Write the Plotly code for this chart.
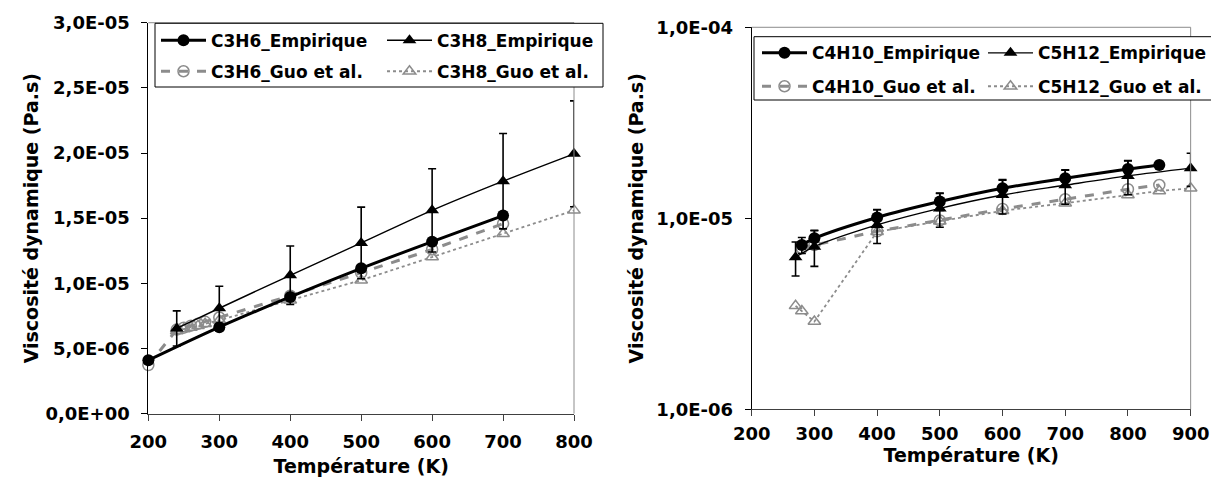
import plotly.graph_objects as go

# Données (température en K, viscosité en Pa.s)
# -- graphe de gauche : C3H6 / C3H8
t_c3h6_emp = [200, 300, 400, 500, 600, 700]
mu_c3h6_emp = [4.10e-6, 6.64e-6, 8.96e-6, 11.15e-6, 13.20e-6, 15.20e-6]

t_c3h8_emp = [240, 300, 400, 500, 600, 700, 800]
mu_c3h8_emp = [6.54e-6, 8.09e-6, 10.62e-6, 13.10e-6, 15.60e-6, 17.84e-6, 19.94e-6]
err_c3h8_emp = [1.35e-6, 1.69e-6, 2.24e-6, 2.75e-6, 3.19e-6, 3.66e-6, 4.06e-6]

t_c3h6_guo = [200, 240, 250, 260, 270, 280, 300, 400, 500, 600, 700]
mu_c3h6_guo = [3.73e-6, 6.45e-6, 6.60e-6, 6.75e-6, 6.90e-6, 7.05e-6, 7.38e-6,
               9.05e-6, 10.80e-6, 12.60e-6, 14.58e-6]

t_c3h8_guo = [240, 250, 260, 270, 280, 300, 400, 500, 600, 700, 800]
mu_c3h8_guo = [6.35e-6, 6.50e-6, 6.62e-6, 6.75e-6, 6.90e-6, 7.17e-6,
               8.70e-6, 10.24e-6, 12.02e-6, 13.81e-6, 15.60e-6]

# -- graphe de droite : C4H10 / C5H12 (échelle log)
t_c4h10_emp = [280, 300, 400, 500, 600, 700, 800, 850]
mu_c4h10_emp = [7.24e-6, 7.85e-6, 10.1e-6, 12.23e-6, 14.36e-6, 16.2e-6, 18.1e-6, 19.0e-6]
err_c4h10_emp = [0.7e-6, 0.8e-6, 1.0e-6, 1.25e-6, 1.45e-6, 1.65e-6, 1.85e-6, 0]

t_c5h12_emp = [270, 300, 400, 500, 600, 700, 800, 900]
mu_c5h12_emp = [6.25e-6, 7.10e-6, 9.23e-6, 11.27e-6, 13.24e-6, 14.9e-6, 16.67e-6, 18.3e-6]
err_c5h12_emp = [1.26e-6, 1.5e-6, 1.85e-6, 2.3e-6, 2.7e-6, 3.05e-6, 3.4e-6, 3.6e-6]

t_c4h10_guo = [280, 300, 400, 500, 600, 700, 800, 850]
mu_c4h10_guo = [6.97e-6, 7.24e-6, 8.55e-6, 9.75e-6, 11.2e-6, 12.58e-6, 14.2e-6, 14.94e-6]

t_c5h12_guo = [270, 280, 300, 400, 500, 600, 700, 800, 850, 900]
mu_c5h12_guo = [3.48e-6, 3.27e-6, 2.88e-6, 8.50e-6, 9.65e-6, 10.95e-6, 12.0e-6,
                13.24e-6, 13.9e-6, 14.36e-6]

# graduations
x_ticks_left = [200, 300, 400, 500, 600, 700, 800]
x_ticks_right = [200, 300, 400, 500, 600, 700, 800, 900]
y_ticks_left = [0, 5e-6, 1e-5, 1.5e-5, 2e-5, 2.5e-5, 3e-5]
y_labels_left = ["0,0E+00", "5,0E-06", "1,0E-05", "1,5E-05", "2,0E-05", "2,5E-05", "3,0E-05"]
y_ticks_right = [1e-6, 1e-5, 1e-4]
y_labels_right = ["1,0E-06", "1,0E-05", "1,0E-04"]

FONT = "DejaVu Sans"
GRIS = "#8c8c8c"


def emp_trace(x, y, name, symbol, width, err, xa, ya, leg):
    return go.Scatter(
        x=x, y=y, name=name, mode="lines+markers", line_shape="spline",
        line=dict(color="black", width=width),
        marker=dict(symbol=symbol, size=12, color="black"),
        error_y=None if err is None else dict(type="data", array=err, visible=True,
                                             color="black", thickness=1.6, width=4),
        xaxis=xa, yaxis=ya, legend=leg, cliponaxis=False,
    )


def guo_trace(x, y, name, symbol, dash, width, xa, ya, leg):
    return go.Scatter(
        x=x, y=y, name=name, mode="lines+markers",
        line=dict(color=GRIS, width=width, dash=dash),
        marker=dict(symbol=symbol, size=11, color=GRIS, line=dict(color=GRIS, width=1.5)),
        xaxis=xa, yaxis=ya, legend=leg, cliponaxis=False,
    )


fig = go.Figure()

# gauche
fig.add_trace(guo_trace(t_c3h8_guo, mu_c3h8_guo, "C3H8_Guo et al.", "triangle-up-open",
                        "dot", 1.8, "x", "y", "legend2"))
fig.add_trace(guo_trace(t_c3h6_guo, mu_c3h6_guo, "C3H6_Guo et al.", "circle-open",
                        "dash", 3, "x", "y", "legend2"))
fig.add_trace(emp_trace(t_c3h8_emp, mu_c3h8_emp, "C3H8_Empirique", "triangle-up", 1.4,
                        err_c3h8_emp, "x", "y", "legend"))
fig.add_trace(emp_trace(t_c3h6_emp, mu_c3h6_emp, "C3H6_Empirique", "circle", 3,
                        None, "x", "y", "legend"))

# droite
fig.add_trace(guo_trace(t_c5h12_guo, mu_c5h12_guo, "C5H12_Guo et al.", "triangle-up-open",
                        "dot", 1.8, "x2", "y2", "legend4"))
fig.add_trace(guo_trace(t_c4h10_guo, mu_c4h10_guo, "C4H10_Guo et al.", "circle-open",
                        "dash", 3, "x2", "y2", "legend4"))
fig.add_trace(emp_trace(t_c5h12_emp, mu_c5h12_emp, "C5H12_Empirique", "triangle-up", 1.4,
                        err_c5h12_emp, "x2", "y2", "legend3"))
fig.add_trace(emp_trace(t_c4h10_emp, mu_c4h10_emp, "C4H10_Empirique", "circle", 3,
                        err_c4h10_emp, "x2", "y2", "legend3"))

tickfont = dict(family=FONT, size=18, color="black", weight="bold")
titlefont = dict(family=FONT, size=19, color="black", weight="bold")

common_x = dict(ticks="outside", ticklen=6, tickcolor="#404040", showline=True,
                linecolor="#404040", linewidth=1, showgrid=False, zeroline=False,
                tickfont=tickfont, automargin=False)
common_y = dict(ticks="outside", ticklen=6, tickcolor="black", showline=True,
                linecolor="black", linewidth=1, showgrid=False, zeroline=False,
                tickfont=tickfont, ticklabelstandoff=8, automargin=False)

leg_common = dict(orientation="h", xanchor="left", yanchor="middle", bgcolor="rgba(0,0,0,0)",
                  borderwidth=0, font=dict(family=FONT, size=17, color="black", weight="bold"),
                  entrywidthmode="pixels", entrywidth=166, itemwidth=45,
                  traceorder="reversed")

fig.update_layout(
    template="none",
    width=1211, height=499,
    margin=dict(l=0, r=0, t=0, b=0, autoexpand=False),
    paper_bgcolor="white", plot_bgcolor="white",
    xaxis=dict(domain=[0.1225, 0.474], range=[200, 800], tickvals=x_ticks_left, anchor="y",
               ticklabelstandoff=6,
               title=dict(text="Température (K)", font=titlefont, standoff=8), **common_x),
    yaxis=dict(domain=[0.171, 0.9545], range=[0, 3e-5], tickvals=y_ticks_left,
               ticktext=y_labels_left, anchor="x",
               title=dict(text="Viscosité dynamique (Pa.s)", font=titlefont, standoff=1),
               **common_y),
    xaxis2=dict(domain=[0.6207, 0.9832], range=[200, 900], tickvals=x_ticks_right, anchor="y2",
                ticklabelstandoff=2,
                title=dict(text="Température (K)", font=titlefont, standoff=2), **common_x),
    yaxis2=dict(domain=[0.1798, 0.9453], type="log", range=[-6, -4], tickvals=y_ticks_right,
                ticktext=y_labels_right, anchor="x2",
                title=dict(text="Viscosité dynamique (Pa.s)", font=titlefont, standoff=7),
                **common_y),
    legend=dict(x=156 / 1211, y=1 - 40.7 / 499, **leg_common),
    legend2=dict(x=156 / 1211, y=1 - 71.7 / 499, **leg_common),
    legend3=dict(x=757 / 1211, y=1 - 53.3 / 499, **leg_common),
    legend4=dict(x=757 / 1211, y=1 - 86.7 / 499, **leg_common),
    showlegend=True,
)

# bord gris du cadre (haut et droite)
for xr, yr in (("x domain", "y domain"), ("x2 domain", "y2 domain")):
    fig.add_shape(type="line", xref=xr, yref=yr, x0=0, x1=1, y0=1, y1=1,
                  line=dict(color=GRIS, width=1), layer="above")
    fig.add_shape(type="line", xref=xr, yref=yr, x0=1, x1=1, y0=0, y1=1,
                  line=dict(color=GRIS, width=1), layer="above")

# cadres des légendes
fig.add_shape(type="rect", xref="paper", yref="paper",
              x0=155 / 1211, x1=603 / 1211, y0=1 - 87 / 499, y1=1 - 23.3 / 499,
              line=dict(color="black", width=1), fillcolor="white", layer="above")
fig.add_shape(type="rect", xref="paper", yref="paper",
              x0=754 / 1211, x1=1.01, y0=1 - 100 / 499, y1=1 - 36.7 / 499,
              line=dict(color="black", width=1), fillcolor="white", layer="above")

# la page n'ajoute pas de marge autour de la figure
fig.write_html("out.html", config={"displayModeBar": False},
               post_script="document.body.style.margin = '0px';")
